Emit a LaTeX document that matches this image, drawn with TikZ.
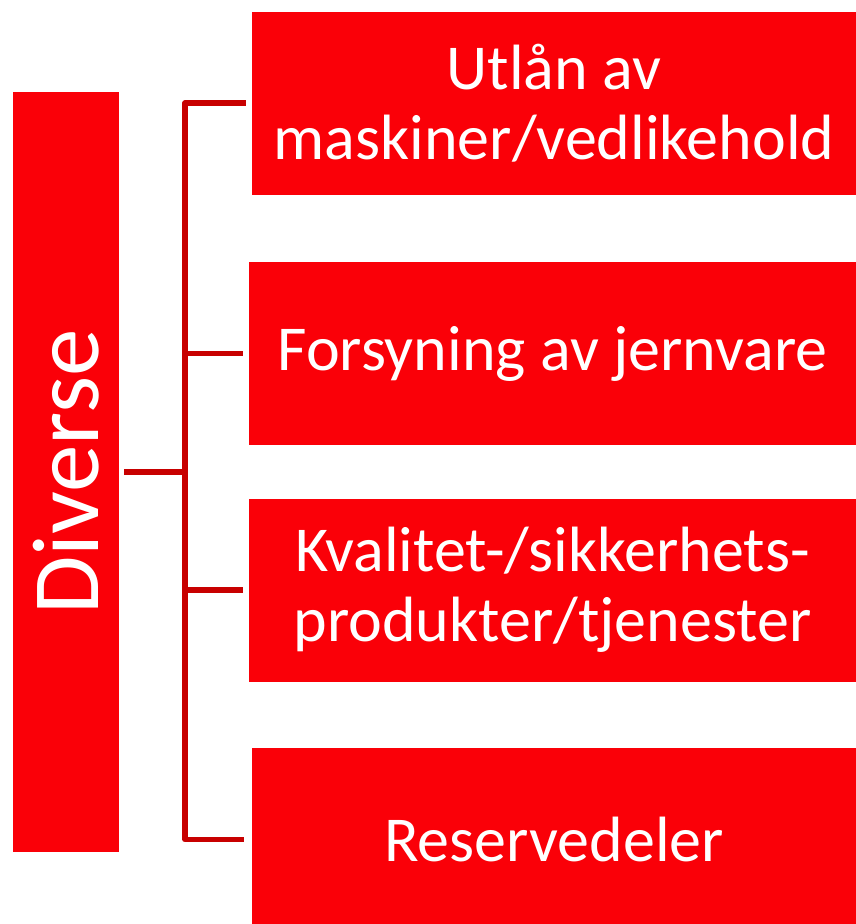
\documentclass[tikz,border=0pt]{standalone}
\usepackage{fontspec}
\setmainfont{Carlito}
\definecolor{boxred}{RGB}{250,0,8}
\definecolor{linkred}{RGB}{200,0,0}
\tikzset{
  item/.style={fill=boxred, text=white, align=center, inner sep=0pt,
    minimum width=#1, minimum height=183pt, font=\fontsize{64}{70}\selectfont},
  link/.style={draw=linkred, line width=5.5pt, line join=round}
}
\begin{document}
\begin{tikzpicture}[x=1pt,y=-1pt]

      \clip (0,0) rectangle (856,924);
      \fill[white] (0,0) rectangle (856,924);

      \node[fill=boxred, text=white, inner sep=0pt, minimum width=106pt, minimum height=760pt,
        font=\fontsize{95}{114}\selectfont] (diverse) at (66,472) {\rotatebox{90}{Diverse}};

      \node[item=604pt] (utlan) at (554,103) {Utlån av\\maskiner/vedlikehold};
      \node[item=607pt] (forsyning) at (552.5,353.5) {Forsyning av jernvare};
      \node[item=607pt] (kvalitet) at (552.5,590) {Kvalitet-/sikkerhets-\\produkter/tjenester};
      \node[item=604pt] (reserve) at (554,839.5) {Reservedeler};

      \coordinate (fork) at (185,472);

      \draw[link] ([xshift=5pt]diverse.east) -- (fork);
      \draw[link] ([xshift=-6pt]utlan.west) -| (fork) |- ([xshift=-8pt]reserve.west);
      \draw[link] (fork |- forsyning.west) -- ([xshift=-6pt]forsyning.west);
      \draw[link] (fork |- kvalitet.west) -- ([xshift=-6pt]kvalitet.west);

    \end{tikzpicture}
\end{document}
